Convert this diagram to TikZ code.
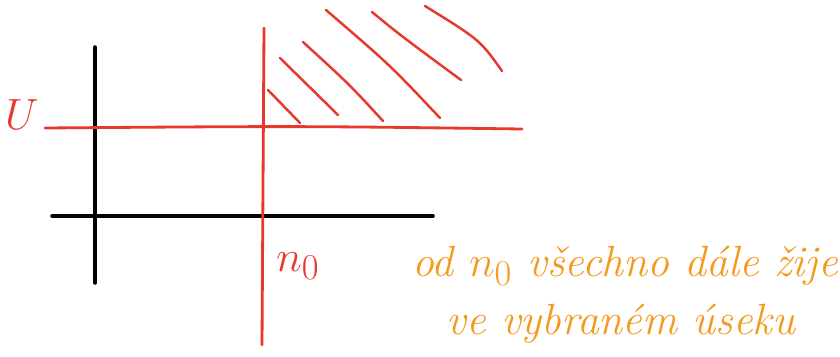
\documentclass[tikz,border=0pt]{standalone}
\usepackage{tikz}
\usetikzlibrary{positioning}
\definecolor{pen}{HTML}{E8382B}
\definecolor{ink}{HTML}{F59A1C}

\begin{document}
\begin{tikzpicture}[
        x=0.02cm, y=-0.02cm,
        axis/.style={draw, line width=2pt, line cap=round},
        level/.style={draw, pen, line width=1.6pt, line cap=round},
        hatch/.style={draw, pen, line width=1.4pt, line cap=round},
        note/.style={ink, font=\Huge\itshape, inner sep=0pt},
    ]
    \useasboundingbox (0,0) rectangle (840,356);

    % Axes
    \coordinate (yTop) at (95, 47);
    \coordinate (yBot) at (95, 283);
    \coordinate (xLeft) at (52, 216);
    \coordinate (xRight) at (433, 216);
    \draw[axis] (yTop) -- (yBot);
    \draw[axis] (xLeft) -- (xRight);

    % Level U and index n_0
    \coordinate (uLeft) at (45, 128);
    \coordinate (uRight) at (522, 129);
    \coordinate (nTop) at (264, 28);
    \coordinate (nBot) at (262, 345);
    \draw[level] (uLeft) .. controls (300, 126) .. (uRight);
    \draw[level] (nTop) -- (nBot);
    \node[pen, font=\Huge\itshape, inner sep=0pt] (U) at (22, 115) {$U$};
    \node[pen, font=\Huge, inner sep=0pt] (n0) at (298, 266) {$n_0$};

    % Hatched region
    \draw[hatch] (268, 90) -- (300, 123);
    \draw[hatch] (280, 58) -- (338, 115);
    \draw[hatch] (303, 42) .. controls (350, 85) .. (383, 121);
    \draw[hatch] (326, 10) .. controls (390, 65) .. (440, 118);
    \draw[hatch] (372, 12) .. controls (400, 35) .. (461, 80);
    \draw[hatch] (425, 6) .. controls (480, 40) .. (502, 71);

    % Note
    \node[note] (line1) at (625, 266) {od $n_0$ všechno dále žije};
    \node[note] (line2) at (621, 324) {ve vybraném úseku};

\end{tikzpicture}
\end{document}
